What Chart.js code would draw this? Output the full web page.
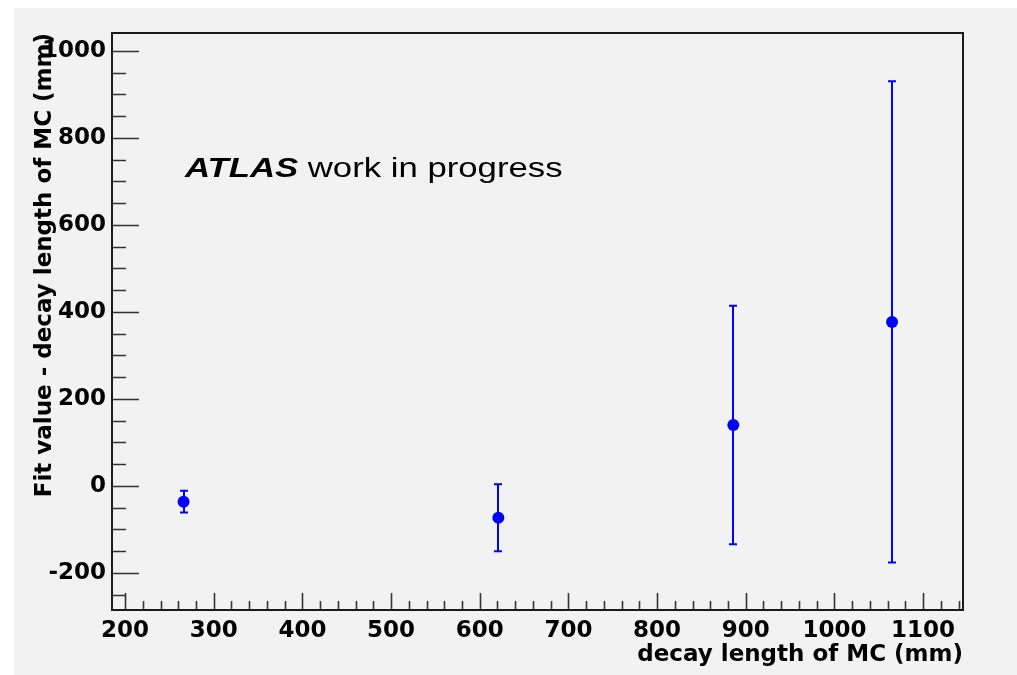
<!DOCTYPE html>
<html><head><meta charset="utf-8">
<script src="https://cdn.jsdelivr.net/npm/chart.js@4.4.0/dist/chart.umd.min.js"></script>
<style>html,body{margin:0;padding:0;background:#fff;overflow:hidden;}canvas{display:block;}</style>
</head><body>
<canvas id="c" width="1017" height="675"></canvas>
<script>
// Data
const decayLengthMC = [266, 621, 886, 1065];       // x (mm)
const fitMinusMC    = [-36, -73, 140, 377];        // y (mm)
const fitError      = [25, 77, 274, 553];          // symmetric error (mm)
const xTickLabels   = [200, 300, 400, 500, 600, 700, 800, 900, 1000, 1100];
const yTickLabels   = [-200, 0, 200, 400, 600, 800, 1000];

const BLUE = '#0000ff';

const bgPlugin = {
  id: 'bg',
  beforeDraw(chart) {
    const ctx = chart.ctx;
    ctx.save();
    ctx.fillStyle = '#ffffff';
    ctx.fillRect(0, 0, chart.width, chart.height);
    ctx.fillStyle = '#f2f2f2';
    ctx.fillRect(14, 8, chart.width - 14, chart.height - 8);
    ctx.restore();
  }
};

const errorBars = {
  id: 'errorBars',
  beforeDatasetsDraw(chart) {
    const xs = chart.scales.x, ys = chart.scales.y, ctx = chart.ctx;
    ctx.save();
    ctx.strokeStyle = BLUE;
    ctx.lineWidth = 2;
    for (let i = 0; i < decayLengthMC.length; i++) {
      const px = Math.round(xs.getPixelForValue(decayLengthMC[i]));
      const yt = ys.getPixelForValue(fitMinusMC[i] + fitError[i]);
      const yb = ys.getPixelForValue(fitMinusMC[i] - fitError[i]);
      ctx.beginPath();
      ctx.moveTo(px, yt); ctx.lineTo(px, yb);
      ctx.moveTo(px - 4, yt); ctx.lineTo(px + 4, yt);
      ctx.moveTo(px - 4, yb); ctx.lineTo(px + 4, yb);
      ctx.stroke();
    }
    ctx.restore();
  }
};

const frameTicks = {
  id: 'frameTicks',
  afterDatasetsDraw(chart) {
    const {ctx, chartArea: a} = chart;
    const xs = chart.scales.x, ys = chart.scales.y;
    ctx.save();
    ctx.strokeStyle = '#333';
    ctx.lineWidth = 1.6;
    ctx.beginPath();
    for (let v = 200; v <= xs.max; v += 20) {
      const px = Math.round(xs.getPixelForValue(v)) + 0.5;
      const len = (v % 100 === 0) ? 17 : 9;
      ctx.moveTo(px, a.bottom); ctx.lineTo(px, a.bottom - len);
    }
    for (let v = -250; v <= ys.max; v += 50) {
      const py = Math.round(ys.getPixelForValue(v)) + 0.5;
      const len = (v % 200 === 0) ? 27 : 14;
      ctx.moveTo(a.left, py); ctx.lineTo(a.left + len, py);
    }
    ctx.stroke();
    ctx.strokeStyle = '#1a1a1a';
    ctx.lineWidth = 2;
    ctx.strokeRect(a.left, a.top, a.right - a.left, a.bottom - a.top);
    ctx.restore();
  },
  afterDraw(chart) {
    const {ctx, chartArea: a} = chart;
    ctx.save();
    const sx = 1.24;
    ctx.translate(a.left + 73, a.top + 144);
    ctx.scale(sx, 1);
    ctx.fillStyle = '#000';
    ctx.textBaseline = 'alphabetic';
    ctx.textAlign = 'left';
    ctx.font = 'italic bold 28px "Liberation Sans", Arial, sans-serif';
    ctx.fillText('ATLAS', 0, 0);
    const w = ctx.measureText('ATLAS').width;
    ctx.font = '28px "Liberation Sans", Arial, sans-serif';
    ctx.fillText(' work in progress', w, 0);
    ctx.restore();
  }
};

const tickFont = {family: 'DejaVu Sans', weight: 'bold', size: 23};
const titleFont = {family: 'DejaVu Sans', weight: 'bold', size: 23};

new Chart(document.getElementById('c'), {
  type: 'scatter',
  data: {
    datasets: [{
      data: decayLengthMC.map((x, i) => ({x: x, y: fitMinusMC[i]})),
      backgroundColor: BLUE,
      borderColor: BLUE,
      borderWidth: 0,
      pointRadius: 6,
      pointStyle: 'circle'
    }]
  },
  options: {
    responsive: false,
    animation: false,
    devicePixelRatio: 1,
    layout: {padding: {top: 33, right: 54, left: 0, bottom: 0}},
    plugins: {legend: {display: false}, tooltip: {enabled: false}},
    scales: {
      x: {
        type: 'linear', position: 'bottom', min: 185.3, max: 1145,
        grid: {display: false, drawTicks: false}, border: {display: false},
        afterBuildTicks(s) { s.ticks = xTickLabels.map(v => ({value: v})); },
        ticks: {font: tickFont, color: '#000', padding: 7, maxRotation: 0, autoSkip: false,
                callback: v => String(v)},
        title: {display: true, text: 'decay length of MC (mm)', align: 'end', color: '#000',
                font: titleFont, padding: {top: 0, bottom: 6}},
        afterFit(s) { s.height = 65; }
      },
      y: {
        type: 'linear', position: 'left', min: -285, max: 1041,
        grid: {display: false, drawTicks: false}, border: {display: false},
        afterBuildTicks(s) { s.ticks = yTickLabels.map(v => ({value: v})); },
        ticks: {font: tickFont, color: '#000', padding: 6, autoSkip: false,
                callback: v => String(v)},
        title: {display: true, text: 'Fit value - decay length of MC (mm)', align: 'end', color: '#000',
                font: titleFont, padding: {top: 31, bottom: 0}},
        afterFit(s) { s.width = 112; }
      }
    }
  },
  plugins: [bgPlugin, errorBars, frameTicks]
});
</script>
</body></html>
